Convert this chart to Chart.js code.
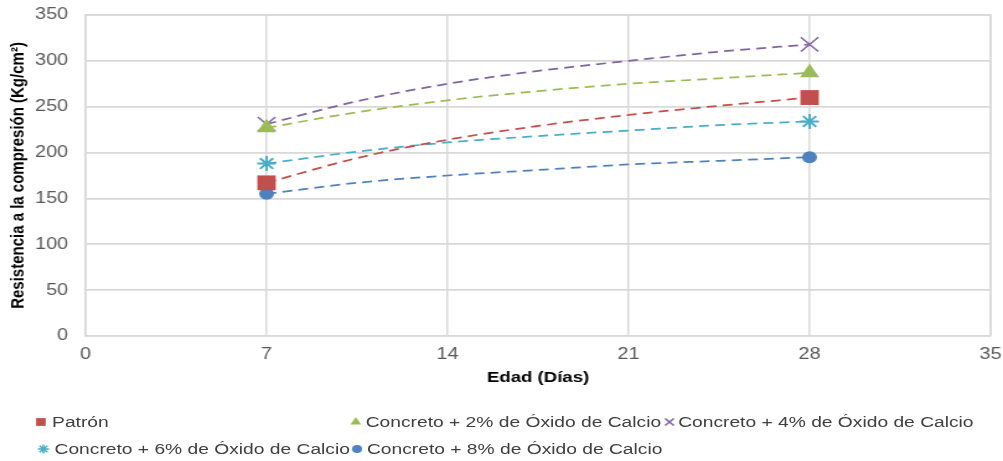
<!DOCTYPE html>
<html>
<head>
<meta charset="utf-8">
<script src="https://cdn.jsdelivr.net/npm/chart.js@4.4.0/dist/chart.umd.min.js"></script>
<style>
    html, body { margin: 0; padding: 0; background: #fff; overflow: hidden; }
    /* the reference is stretched sideways, so draw narrow and scale the whole block */
    #wrap { position: absolute; left: 0; top: 0; width: 809px; height: 461px; transform: scaleX(1.2398); transform-origin: 0 0; }
    #chart { position: absolute; left: 0; top: 0; width: 809px; height: 400px; }
    .mark { position: absolute; width: 14px; height: 14px; }
    .label { position: absolute; font: 15.5px "Liberation Sans", Arial, sans-serif; color: #404040; white-space: nowrap; line-height: 18px; }
</style>
</head>
<body>
<div id="wrap">
    <canvas id="chart" width="809" height="400"></canvas>
    <div id="legend"></div>
</div>
<script>
// Data
const days = [7, 28];
const patron = [167, 260];
const cao2 = [227, 287];
const cao4 = [231, 318];
const cao6 = [188, 234];
const cao8 = [155, 195];

// Trend lines (dashed curves), read every half week
const trendDays = [7, 10.5, 14, 17.5, 21, 24.5, 28];
const patronTrend = [167, 194, 214, 229, 241, 251, 260];
const cao2Trend = [227, 244, 257, 267, 275, 281, 287];
const cao4Trend = [231, 256, 275, 289, 300, 310, 318];
const cao6Trend = [188, 201, 211, 218, 224, 230, 234];
const cao8Trend = [155, 167, 175, 181, 187, 191, 195];

const xTicks = [0, 7, 14, 21, 28, 35];
const yTicks = [0, 50, 100, 150, 200, 250, 300, 350];

const seriesNames = [
    'Patrón',
    'Concreto + 2% de Óxido de Calcio',
    'Concreto + 4% de Óxido de Calcio',
    'Concreto + 6% de Óxido de Calcio',
    'Concreto + 8% de Óxido de Calcio'
];

// styles
const series = [
    { values: patron, trend: patronTrend, color: '#c0504d', style: 'rect', radius: 10.5, border: 0, legendRadius: 5.5 },
    { values: cao2, trend: cao2Trend, color: '#9bbb59', style: 'triangle', radius: 9, border: 0, legendRadius: 5 },
    { values: cao4, trend: cao4Trend, color: '#8064a2', style: 'crossRot', radius: 10, border: 1.5, legendRadius: 5 },
    { values: cao6, trend: cao6Trend, color: '#4bacc6', style: 'star', radius: 7.5, border: 2, legendRadius: 4.5 },
    { values: cao8, trend: cao8Trend, color: '#4f81bd', style: 'circle', radius: 6, border: 0, legendRadius: 4 }
];

// legend item positions (marker centre x, text x, row y)
const legendPos = [
    { mx: 33, tx: 42, y: 422 },
    { mx: 287, tx: 295, y: 422 },
    { mx: 540, tx: 547, y: 422 },
    { mx: 35, tx: 44, y: 449 },
    { mx: 288, tx: 296, y: 449 }
];

function toPoints(xs, ys) {
    return xs.map((x, i) => ({ x: x, y: ys[i] }));
}

const datasets = [];
series.forEach((s, i) => {
    datasets.push({
        label: seriesNames[i],
        data: toPoints(days, s.values),
        showLine: false,
        pointStyle: s.style,
        pointRadius: s.radius,
        pointBackgroundColor: s.color,
        pointBorderColor: s.color,
        pointBorderWidth: s.border,
        order: 0
    });
    datasets.push({
        label: seriesNames[i] + ' (tendencia)',
        data: toPoints(trendDays, s.trend),
        showLine: true,
        borderColor: s.color,
        borderWidth: 1.75,
        borderDash: [8, 5],
        cubicInterpolationMode: 'monotone',
        pointRadius: 0,
        fill: false,
        order: 1
    });
});

const gridColor = '#d9d9d9';
const tickFont = { family: '"Liberation Sans", Arial, sans-serif', size: 16 };

new Chart(document.getElementById('chart').getContext('2d'), {
    type: 'scatter',
    data: { datasets: datasets },
    options: {
        responsive: false,
        animation: false,
        layout: { autoPadding: false, padding: 0 },
        plugins: {
            legend: { display: false },
            tooltip: { enabled: false }
        },
        scales: {
            x: {
                type: 'linear',
                min: 0,
                max: 35,
                afterBuildTicks: (scale) => { scale.ticks = xTicks.map(v => ({ value: v })); },
                afterFit: (scale) => {
                    scale.height = 64;
                    scale.paddingLeft = 0;
                    scale.paddingRight = 10;
                },
                ticks: { color: '#595959', font: tickFont, padding: 9 },
                grid: { color: gridColor, lineWidth: 1.5, drawTicks: false },
                border: { color: gridColor, width: 1.5 },
                title: {
                    display: true,
                    text: 'Edad (Días)',
                    color: '#000',
                    font: { family: '"Liberation Sans", Arial, sans-serif', size: 15, weight: 'bold' },
                    padding: { top: 13, bottom: 13 }
                }
            },
            y: {
                min: 0,
                max: 350,
                afterBuildTicks: (scale) => { scale.ticks = yTicks.map(v => ({ value: v })); },
                afterFit: (scale) => {
                    scale.width = 69;
                    scale.paddingTop = 15;
                    scale.paddingBottom = 0;
                },
                ticks: { color: '#595959', font: tickFont, padding: 14 },
                grid: { color: gridColor, lineWidth: 1.75, drawTicks: false },
                border: { color: gridColor, width: 1.75 },
                title: {
                    display: true,
                    text: 'Resistencia a la compresión (Kg/cm²)',
                    color: '#000',
                    font: { family: '"Liberation Sans", Arial, sans-serif', size: 15, weight: 'bold' },
                    padding: { top: 6, bottom: 6 }
                }
            }
        }
    },
    plugins: [{
        // close the plot box on the right and top
        id: 'frame',
        afterDraw(chart) {
            const a = chart.chartArea;
            const ctx = chart.ctx;
            ctx.save();
            ctx.strokeStyle = gridColor;
            ctx.lineWidth = 1.5;
            ctx.beginPath();
            ctx.moveTo(a.left, a.top);
            ctx.lineTo(a.right, a.top);
            ctx.lineTo(a.right, a.bottom);
            ctx.stroke();
            ctx.restore();
        }
    }]
});

// HTML legend laid out like the reference
const legend = document.getElementById('legend');
series.forEach((s, i) => {
    const p = legendPos[i];
    const c = document.createElement('canvas');
    c.className = 'mark';
    c.width = 14;
    c.height = 14;
    c.style.left = (p.mx - 7) + 'px';
    c.style.top = (p.y - 7) + 'px';
    const ctx = c.getContext('2d');
    ctx.fillStyle = s.color;
    ctx.strokeStyle = s.color;
    ctx.lineWidth = s.border ? 1.5 : 0;
    if (Chart.helpers && Chart.helpers.drawPoint) {
        Chart.helpers.drawPoint(ctx, { pointStyle: s.style, radius: s.legendRadius, borderWidth: s.border ? 1.5 : 0, rotation: 0 }, 7, 7);
    }
    legend.appendChild(c);

    const t = document.createElement('div');
    t.className = 'label';
    t.textContent = seriesNames[i];
    t.style.left = p.tx + 'px';
    t.style.top = (p.y - 9) + 'px';
    legend.appendChild(t);
});
</script>
</body>
</html>
